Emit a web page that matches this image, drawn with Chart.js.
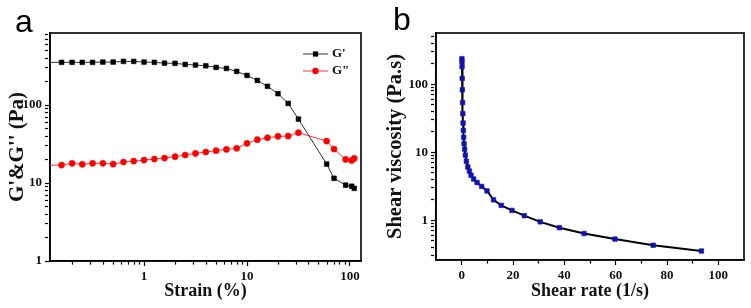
<!DOCTYPE html>
<html>
<head>
<meta charset="utf-8">
<script src="https://cdn.jsdelivr.net/npm/chart.js@4.4.0/dist/chart.umd.min.js"></script>
<style>
  html, body { margin: 0; padding: 0; background: #fff; }
  body { width: 751px; height: 308px; position: relative; overflow: hidden; }
  canvas { position: absolute; top: 0; }
  #chart-a { left: 0; }
  #chart-b { left: 375px; }
</style>
</head>
<body>
<canvas id="chart-a" width="375" height="308"></canvas>
<canvas id="chart-b" width="376" height="308"></canvas>
<script>
// panel a: strain sweep
const strain = [0.1, 0.158, 0.2, 0.251, 0.316, 0.398, 0.501, 0.631, 0.794, 1, 1.26, 1.58, 2, 2.51, 3.16, 3.98, 5.01, 6.31, 7.94, 10, 12.6, 15.8, 20, 25.1, 31.6, 59.4, 70, 90.8, 104, 110];
const storageG = [353, 353, 353, 353, 353, 356, 356, 363, 363, 356, 353, 345, 343, 332, 326, 319, 304, 295, 270, 240, 207, 174, 140, 105, 66, 17.5, 11.5, 9.4, 9.1, 8.55];
const lossG = [16.8, 17.0, 17.9, 17.4, 17.9, 17.9, 17.5, 18.6, 19.1, 19.7, 20.3, 20.9, 21.8, 22.9, 24.0, 25.0, 26.0, 27.0, 27.9, 32.3, 36.0, 38.1, 39.7, 40.0, 44.2, 34.5, 27.3, 20.1, 19.5, 20.7];
const strainLabels = [1, 10, 100];
const modulusLabels = [1, 10, 100];

// panel b: flow curve
const shearRate = [0.1, 0.12, 0.15, 0.2, 0.27, 0.36, 0.45, 0.55, 0.66, 0.78, 0.93, 1.17, 1.44, 1.83, 2.4, 3.0, 3.65, 4.66, 6.0, 7.8, 9.9, 12.4, 15.4, 19.6, 24.4, 30.6, 38.1, 47.7, 59.7, 74.6, 93.4];
const viscosity = [238, 215, 182, 122, 83, 54, 37, 27, 21, 16.6, 13.4, 11.1, 9.1, 7.4, 6.1, 5.3, 4.6, 4.05, 3.6, 3.15, 2.7, 2.0, 1.66, 1.40, 1.17, 0.95, 0.78, 0.64, 0.53, 0.43, 0.354];
const rateLabels = [0, 20, 40, 60, 80, 100];
const viscosityLabels = [1, 10, 100];

const serif = "'Liberation Serif', 'Times New Roman', serif";

function toPoints(xs, ys) {
  return xs.map((x, i) => ({ x: x, y: ys[i] }));
}

// 1..9 x 10^n inside the range
function logTicks(min, max) {
  const out = [];
  for (let e = Math.floor(Math.log10(min)); e <= Math.ceil(Math.log10(max)); e++) {
    for (let m = 1; m <= 9; m++) {
      const v = parseFloat((m * Math.pow(10, e)).toPrecision(6));
      if (v >= min * 0.9999 && v <= max * 1.0001) out.push({ value: v });
    }
  }
  return out;
}

function axis(type, min, max, labels, extra) {
  const isMajor = (v) => labels.some(l => Math.abs(l - v) < 1e-9);
  return Object.assign({
    type: type,
    min: min,
    max: max,
    afterBuildTicks: (scale) => {
      if (type === 'logarithmic') scale.ticks = logTicks(min, max);
      else {
        const t = [];
        for (let v = 0; v <= 100; v += 10) t.push({ value: v });
        scale.ticks = t;
      }
    },
    grid: {
      drawOnChartArea: false,
      drawTicks: true,
      tickLength: 5,
      tickWidth: 1.2,
      tickColor: '#000',
      tickBorderDash: (ctx) => (ctx.tick && isMajor(ctx.tick.value)) ? [] : [3, 20]
    },
    border: { display: true, color: '#000', width: 1.6 },
    ticks: {
      autoSkip: false,
      maxRotation: 0,
      color: '#111',
      font: { family: serif, weight: 'bold', size: 13 },
      callback: (value) => isMajor(value) ? String(value) : ''
    }
  }, extra);
}

// closes the frame on top and right
const framePlugin = {
  id: 'frame',
  beforeDatasetsDraw(chart) {
    const a = chart.chartArea;
    const ctx = chart.ctx;
    ctx.save();
    ctx.strokeStyle = '#000';
    ctx.lineWidth = 1.6;
    ctx.strokeRect(a.left, a.top, a.right - a.left, a.bottom - a.top);
    ctx.restore();
  }
};

const panelLabelPlugin = {
  id: 'panelLabel',
  afterDraw(chart, args, opts) {
    const ctx = chart.ctx;
    ctx.save();
    ctx.fillStyle = '#000';
    ctx.font = "32px 'Liberation Sans', Arial, sans-serif";
    ctx.textBaseline = 'alphabetic';
    ctx.fillText(opts.text, opts.x, opts.y);
    ctx.restore();
  }
};

// line + marker legend like the original
const lineLegendPlugin = {
  id: 'lineLegend',
  afterDatasetsDraw(chart, args, opts) {
    if (!opts.show) return;
    const ctx = chart.ctx;
    chart.data.datasets.forEach((ds, i) => {
      const y = opts.y + i * opts.gap;
      ctx.save();
      ctx.strokeStyle = ds.borderColor;
      ctx.lineWidth = ds.borderWidth;
      ctx.beginPath();
      ctx.moveTo(opts.x, y);
      ctx.lineTo(opts.x + 25, y);
      ctx.stroke();
      ctx.fillStyle = ds.pointBackgroundColor;
      if (ds.pointStyle === 'rect') {
        ctx.fillRect(opts.x + 12.5 - 2.6, y - 2.6, 5.2, 5.2);
      } else {
        ctx.beginPath();
        ctx.arc(opts.x + 12.5, y, 3.2, 0, Math.PI * 2);
        ctx.fill();
      }
      ctx.fillStyle = '#111';
      ctx.font = "bold 13px " + serif;
      ctx.textBaseline = 'middle';
      ctx.fillText(ds.label, opts.x + 29, y);
      ctx.restore();
    });
  }
};

Chart.register(framePlugin, panelLabelPlugin, lineLegendPlugin);

new Chart(document.getElementById('chart-a'), {
  type: 'line',
  data: {
    datasets: [
      {
        label: "G'",
        data: toPoints(strain, storageG),
        borderColor: '#333',
        borderWidth: 1,
        pointStyle: 'rect',
        pointRadius: 3.3,
        pointBorderWidth: 0.6,
        pointBackgroundColor: '#000',
        pointBorderColor: '#000'
      },
      {
        label: 'G"',
        data: toPoints(strain, lossG),
        borderColor: '#ff3030',
        borderWidth: 1,
        pointStyle: 'circle',
        pointRadius: 3.1,
        pointBorderWidth: 0.5,
        pointBackgroundColor: '#ff0000',
        pointBorderColor: '#ff0000'
      }
    ]
  },
  options: {
    responsive: false,
    animation: false,
    events: [],
    layout: { padding: { top: 33, right: 14, left: 0, bottom: 0 } },
    plugins: {
      legend: { display: false },
      tooltip: { enabled: false },
      panelLabel: { text: 'a', x: 15, y: 32 },
      lineLegend: { show: true, x: 303, y: 54, gap: 17 }
    },
    scales: {
      x: axis('logarithmic', 0.122, 128, strainLabels, {
        position: 'bottom',
        afterFit: (s) => { s.height = 47; },
        title: { display: true, text: 'Strain (%)', color: '#111', font: { family: serif, weight: 'bold', size: 18 }, padding: { top: 0, bottom: 6 } }
      }),
      y: axis('logarithmic', 1, 840, modulusLabels, {
        position: 'left',
        afterFit: (s) => { s.width = 50; },
        title: { display: true, text: "G'&G'' (Pa)", color: '#111', font: { family: serif, weight: 'bold', size: 21 }, padding: { top: 5, bottom: 0 } }
      })
    }
  }
});

new Chart(document.getElementById('chart-b'), {
  type: 'line',
  data: {
    datasets: [
      {
        label: 'Shear viscosity',
        data: toPoints(shearRate, viscosity),
        borderColor: '#000',
        borderWidth: 2,
        pointStyle: 'rect',
        pointRadius: 3.2,
        pointBorderWidth: 0.6,
        pointBackgroundColor: '#1212b0',
        pointBorderColor: '#1212b0'
      }
    ]
  },
  options: {
    responsive: false,
    animation: false,
    events: [],
    layout: { padding: { top: 33, right: 7, left: 0, bottom: 0 } },
    plugins: {
      legend: { display: false },
      tooltip: { enabled: false },
      panelLabel: { text: 'b', x: 18, y: 30 },
      lineLegend: { show: false }
    },
    scales: {
      x: axis('linear', -10, 110, rateLabels, {
        position: 'bottom',
        afterFit: (s) => { s.height = 48; },
        title: { display: true, text: 'Shear rate (1/s)', color: '#111', font: { family: serif, weight: 'bold', size: 18 }, padding: { top: 0, bottom: 6 } }
      }),
      y: axis('logarithmic', 0.261, 568, viscosityLabels, {
        position: 'left',
        afterFit: (s) => { s.width = 61; },
        title: { display: true, text: 'Shear viscosity (Pa.s)', color: '#111', font: { family: serif, weight: 'bold', size: 20.5 }, padding: { top: 8, bottom: 0 } }
      })
    }
  }
});
</script>
</body>
</html>
